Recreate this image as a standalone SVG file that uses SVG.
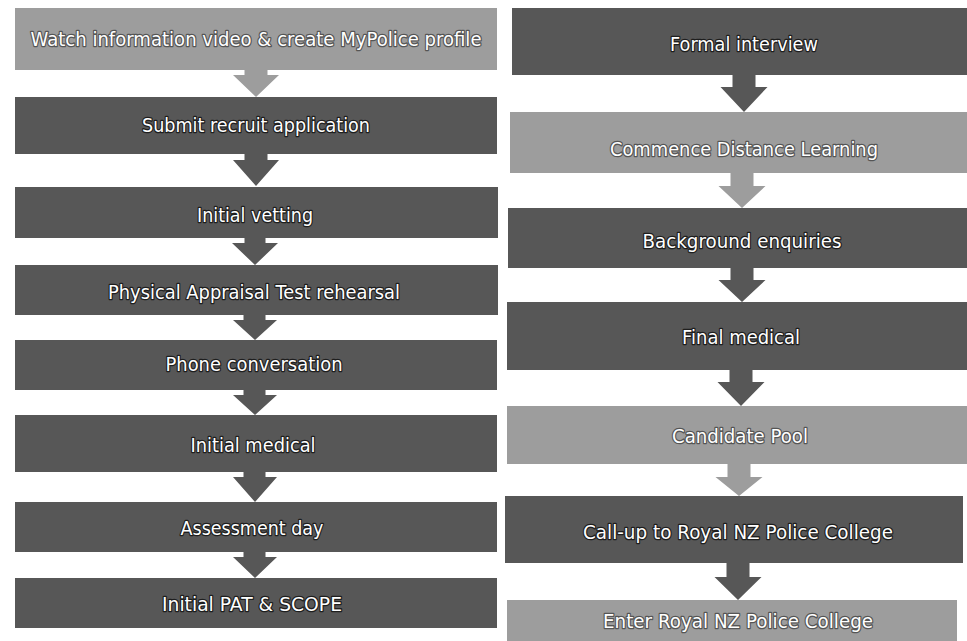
<svg xmlns="http://www.w3.org/2000/svg" width="967" height="641" viewBox="0 0 967 641">
<style>
.dark{fill:#575757}
.light{fill:#9d9d9d}
.lbl{font-family:"DejaVu Sans","Liberation Sans",sans-serif;font-size:20px;fill:#ffffff;stroke:#1e1e1e;stroke-width:2.6px;stroke-linejoin:round;paint-order:stroke;text-anchor:middle}
.lbl2{stroke:#555555}
</style>
<rect width="967" height="641" fill="#ffffff"/>
<g id="n1"><rect class="light" x="15" y="8" width="482" height="62"/><text class="lbl lbl2" x="256" y="46" textLength="451" lengthAdjust="spacingAndGlyphs">Watch information video &amp; create MyPolice profile</text></g>
<g id="n2"><rect class="dark" x="15" y="97" width="482" height="57"/><text class="lbl" x="256" y="132" textLength="228" lengthAdjust="spacingAndGlyphs">Submit recruit application</text></g>
<g id="n3"><rect class="dark" x="15" y="187" width="483" height="51"/><text class="lbl" x="255" y="222" textLength="116" lengthAdjust="spacingAndGlyphs">Initial vetting</text></g>
<g id="n4"><rect class="dark" x="15" y="265" width="483" height="50"/><text class="lbl" x="254" y="299" textLength="292" lengthAdjust="spacingAndGlyphs">Physical Appraisal Test rehearsal</text></g>
<g id="n5"><rect class="dark" x="15" y="340" width="482" height="50"/><text class="lbl" x="254" y="371" textLength="177" lengthAdjust="spacingAndGlyphs">Phone conversation</text></g>
<g id="n6"><rect class="dark" x="15" y="415" width="482" height="57"/><text class="lbl" x="253" y="452" textLength="125" lengthAdjust="spacingAndGlyphs">Initial medical</text></g>
<g id="n7"><rect class="dark" x="15" y="502" width="482" height="50"/><text class="lbl" x="252" y="535" textLength="143" lengthAdjust="spacingAndGlyphs">Assessment day</text></g>
<g id="n8"><rect class="dark" x="15" y="578" width="482" height="50"/><text class="lbl" x="252" y="611" textLength="180" lengthAdjust="spacingAndGlyphs">Initial PAT &amp; SCOPE</text></g>
<g id="n9"><rect class="dark" x="512" y="8" width="455" height="67"/><text class="lbl" x="744" y="51" textLength="148" lengthAdjust="spacingAndGlyphs">Formal interview</text></g>
<g id="n10"><rect class="light" x="510" y="112" width="457" height="61"/><text class="lbl lbl2" x="744" y="156" textLength="268" lengthAdjust="spacingAndGlyphs">Commence Distance Learning</text></g>
<g id="n11"><rect class="dark" x="508" y="208" width="459" height="60"/><text class="lbl" x="742" y="248" textLength="199" lengthAdjust="spacingAndGlyphs">Background enquiries</text></g>
<g id="n12"><rect class="dark" x="507" y="302" width="460" height="68"/><text class="lbl" x="741" y="344" textLength="118" lengthAdjust="spacingAndGlyphs">Final medical</text></g>
<g id="n13"><rect class="light" x="507" y="406" width="460" height="58"/><text class="lbl lbl2" x="740" y="443" textLength="136" lengthAdjust="spacingAndGlyphs">Candidate Pool</text></g>
<g id="n14"><rect class="dark" x="505" y="496" width="458" height="67"/><text class="lbl" x="738" y="539" textLength="310" lengthAdjust="spacingAndGlyphs">Call-up to Royal NZ Police College</text></g>
<g id="n15"><rect class="light" x="507" y="600" width="450" height="41"/><text class="lbl lbl2" x="738" y="628" textLength="270" lengthAdjust="spacingAndGlyphs">Enter Royal NZ Police College</text></g>
<g id="connectors">
<polygon class="light" points="244.5,70 267.5,70 267.5,75 279,75 256,97 233,75 244.5,75"/>
<polygon class="dark" points="244.5,154 267.5,154 267.5,160 279,160 256,186 233,160 244.5,160"/>
<polygon class="dark" points="244.5,238 265.5,238 265.5,243 278,243 255,265 232,243 244.5,243"/>
<polygon class="dark" points="243.5,315 265.5,315 265.5,320 277,320 255,340 233,320 243.5,320"/>
<polygon class="dark" points="243.5,390 265.5,390 265.5,395 277,395 255,415 233,395 243.5,395"/>
<polygon class="dark" points="243.5,472 265.5,472 265.5,477 277,477 255,502 233,477 243.5,477"/>
<polygon class="dark" points="243.5,552 265.5,552 265.5,557 277,557 255,578 233,557 243.5,557"/>
<polygon class="dark" points="732.5,75 755.5,75 755.5,87 767.5,87 744,112 720.5,87 732.5,87"/>
<polygon class="light" points="730.5,173 753.5,173 753.5,186 765.5,186 742,208 718.5,186 730.5,186"/>
<polygon class="dark" points="730.5,268 753.5,268 753.5,280 765.5,280 742,302 718.5,280 730.5,280"/>
<polygon class="dark" points="729.5,370 752.5,370 752.5,382 764.5,382 741,406 717.5,382 729.5,382"/>
<polygon class="light" points="727.5,464 750.5,464 750.5,477 762.5,477 739,496 715.5,477 727.5,477"/>
<polygon class="dark" points="726.5,563 749.5,563 749.5,577 761.5,577 738,600 714.5,577 726.5,577"/>
</g>
</svg>
